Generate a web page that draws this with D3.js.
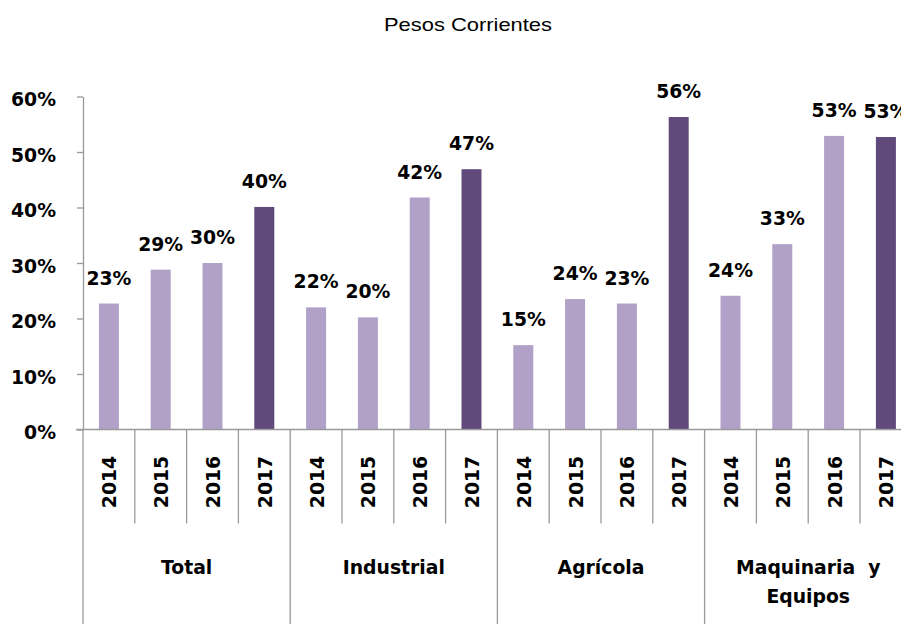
<!DOCTYPE html>
<meta charset="utf-8">
<script src="https://d3js.org/d3.v7.min.js"></script>
<style>
    body{margin:0;background:#fff;}
    text{font-family:"DejaVu Sans",sans-serif;font-weight:bold;fill:#000;}
</style>
<div id="chart"></div>
<script>
    // values (percent)
    const groups=["Total","Industrial","Agrícola","Maquinaria  y|Equipos"];
    const years=["2014","2015","2016","2017"];
    const total=[22.7,28.8,30.0,40.1];
    const industrial=[22.0,20.2,41.8,46.9];
    const agricola=[15.2,23.5,22.7,56.3];
    const maquinaria=[24.1,33.4,52.9,52.7];
    const yTicks=[0,10,20,30,40,50,60];

    const series=[total,industrial,agricola,maquinaria];
    const data=[];
    groups.forEach((g,i)=>years.forEach((yr,j)=>data.push({group:g,year:yr,value:series[i][j],key:g+"_"+yr})));

    const W=901,H=624;
    const plotLeft=83,plotRight=911.8,plotBottom=429.5,plotTop=96.5;
    const axisColor="#999";

    const svg=d3.select("#chart")
        .append("svg")
            .attr("width",W)
            .attr("height",H);

    svg.append("text")
        .attr("x",468)
        .attr("y",30.5)
        .attr("text-anchor","middle")
        .attr("textLength",168)
        .attr("lengthAdjust","spacingAndGlyphs")
        .style("font-family","'Liberation Sans',Arial,sans-serif")
        .style("font-weight","normal")
        .style("font-size","18.5px")
        .text("Pesos Corrientes");

    const x=d3.scaleBand()
        .domain(data.map(d=>d.key))
        .range([plotLeft,plotRight])
        .paddingInner(0.614)
        .paddingOuter(0.307);

    const y=d3.scaleLinear()
        .domain([0,60])
        .range([plotBottom,plotTop]);

    // y axis
    const yAxis=svg.append("g")
        .attr("transform",`translate(${plotLeft},0)`)
        .call(d3.axisLeft(y).tickValues(yTicks).tickFormat(d=>d+"%").tickSize(6).tickSizeOuter(0).tickPadding(21));
    yAxis.selectAll("path,line").attr("stroke",axisColor).attr("stroke-width",1.3);
    yAxis.selectAll("text")
        .attr("dy","0.48em")
        .style("font-size","18.8px")
        .style("font-family","'DejaVu Sans',sans-serif")
        .style("font-weight","bold")
        .attr("fill","#000");

    // bars
    svg.selectAll("rect.bar")
        .data(data)
        .join("rect")
            .attr("class","bar")
            .attr("x",d=>x(d.key))
            .attr("y",d=>y(d.value))
            .attr("width",x.bandwidth())
            .attr("height",d=>plotBottom-y(d.value))
            .attr("fill",d=>d.year==="2017"?"#604A7B":"#B1A0C7");

    // value labels
    svg.selectAll("text.val")
        .data(data)
        .join("text")
            .attr("class","val")
            .attr("x",d=>x(d.key)+x.bandwidth()/2)
            .attr("y",d=>y(d.value)-19)
            .attr("text-anchor","middle")
            .style("font-size","18.8px")
            .text(d=>Math.round(d.value)+"%");

    // x axis line and separators
    const half=(x.step()-x.bandwidth())/2;
    svg.append("line")
        .attr("x1",plotLeft-7).attr("x2",W)
        .attr("y1",plotBottom).attr("y2",plotBottom)
        .attr("stroke",axisColor).attr("stroke-width",1.3);

    const bounds=data.map((d,i)=>({pos:x(d.key)-half,groupStart:i%years.length===0}));
    bounds.push({pos:x(data[data.length-1].key)+x.bandwidth()+half,groupStart:true});
    svg.selectAll("line.sep")
        .data(bounds)
        .join("line")
            .attr("class","sep")
            .attr("x1",d=>d.pos).attr("x2",d=>d.pos)
            .attr("y1",plotBottom)
            .attr("y2",d=>d.groupStart?H+5:plotBottom+94)
            .attr("stroke",axisColor).attr("stroke-width",1.3);

    // year labels (rotated)
    svg.selectAll("text.yr")
        .data(data)
        .join("text")
            .attr("class","yr")
            .attr("transform",d=>`translate(${x(d.key)+x.bandwidth()/2+7.5},482) rotate(-90)`)
            .attr("text-anchor","middle")
            .style("font-size","18.8px")
            .text(d=>d.year);

    // group labels
    const gl=svg.selectAll("text.grp")
        .data(groups)
        .join("text")
            .attr("class","grp")
            .attr("text-anchor","middle")
            .attr("transform",(g,i)=>{
                const k0=data[i*years.length].key,k1=data[i*years.length+years.length-1].key;
                const cx=(x(k0)+x(k1)+x.bandwidth())/2;
                return `translate(${cx},573.5)`;
            })
            .style("font-size","18.8px")
            .style("white-space","pre");
    gl.selectAll("tspan")
        .data(g=>g.split("|"))
        .join("tspan")
            .attr("x",0)
            .attr("dy",(d,i)=>i===0?0:29.5)
            .text(d=>d);
</script>
